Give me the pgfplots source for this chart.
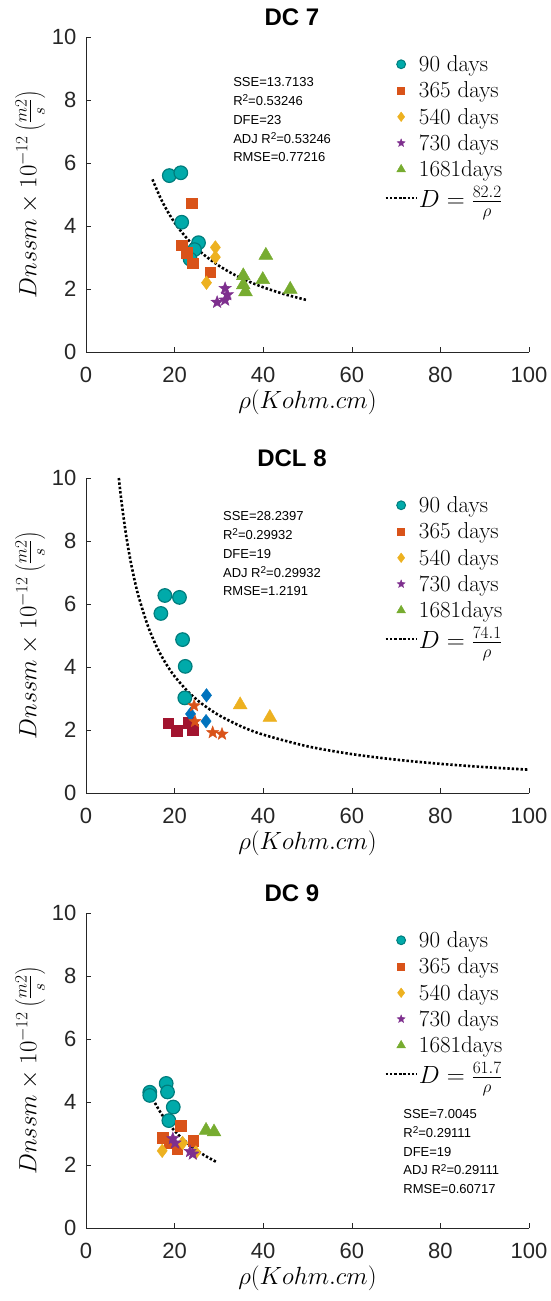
\documentclass[border=0pt]{standalone}
\usepackage{fontspec}
\usepackage{pgfplots}
\pgfplotsset{compat=1.18}
\newfontfamily\arial{Liberation Sans}
\definecolor{cteal}{RGB}{0,170,170}
\definecolor{cteald}{RGB}{0,125,125}
\definecolor{corange}{RGB}{217,83,25}
\definecolor{cyellow}{RGB}{237,177,32}
\definecolor{cpurple}{RGB}{126,47,142}
\definecolor{cgreen}{RGB}{119,172,48}
\definecolor{cdred}{RGB}{162,20,47}
\definecolor{cblue}{RGB}{0,114,189}
\definecolor{axgray}{RGB}{38,38,38}
\pgfdeclareplotmark{fstar}{%
  \pgfpathmoveto{\pgfpointpolar{90}{\pgfplotmarksize}}%
  \pgfpathlineto{\pgfpointpolar{126}{0.42\pgfplotmarksize}}%
  \pgfpathlineto{\pgfpointpolar{162}{\pgfplotmarksize}}%
  \pgfpathlineto{\pgfpointpolar{198}{0.42\pgfplotmarksize}}%
  \pgfpathlineto{\pgfpointpolar{234}{\pgfplotmarksize}}%
  \pgfpathlineto{\pgfpointpolar{270}{0.42\pgfplotmarksize}}%
  \pgfpathlineto{\pgfpointpolar{306}{\pgfplotmarksize}}%
  \pgfpathlineto{\pgfpointpolar{342}{0.42\pgfplotmarksize}}%
  \pgfpathlineto{\pgfpointpolar{18}{\pgfplotmarksize}}%
  \pgfpathlineto{\pgfpointpolar{54}{0.42\pgfplotmarksize}}%
  \pgfpathclose\pgfusepathqfillstroke}
\newcommand{\sq}{\raisebox{0.55ex}{\fontsize{10}{10}\selectfont 2}}
\tikzset{statbox/.style={anchor=north west, align=left, inner sep=0pt, font=\arial\fontsize{13}{18.8}\selectfont}}
\pgfplotsset{
  myaxis/.style={
    width=443pt, height=315pt, scale only axis,
    xmin=0, xmax=100, ymin=0, ymax=10,
    axis lines*=left,
    axis line style={axgray, line width=0.6pt},
    tick style={axgray, line width=0.6pt},
    major tick length=5pt,
    tick align=inside,
    xtick={0,20,...,100}, ytick={0,2,...,10},
    ticklabel style={font=\arial\fontsize{22}{22}\selectfont, text=axgray},
    yticklabel style={xshift=-6pt},
    xticklabel style={yshift=-12pt},
    /pgf/number format/assume math mode=true,
    xlabel={$\rho(Kohm.cm)$},
    ylabel={$Dnssm\times10^{-12}\left(\frac{m2}{s}\right)$},
    xlabel style={font=\fontsize{28}{28}\selectfont},
    ylabel style={font=\fontsize{26}{26}\selectfont},
    title style={font=\arial\bfseries\fontsize{24}{24}\selectfont, at={(0.465,1)}, anchor=base, yshift=6pt},
    legend style={draw=none, fill=none, inner sep=0pt, font=\fontsize{23}{23}\selectfont,
      at={(0.673,0.945)}, anchor=north west, row sep=6.8pt,
      nodes={inner sep=1pt}},
    legend cell align=left,
    legend image code/.code={\draw[mark repeat=2,mark phase=2,#1] plot coordinates {(0pt,0pt) (15.5pt,0pt) (31pt,0pt)};},
    clip=false,
  },
  scirc/.style={only marks, mark=*, mark size=6.8pt, mark options={fill=cteal, draw=cteald, line width=1.2pt}},
  ssq/.style={only marks, mark=square*, mark size=5.3pt, mark options={fill=#1, draw=#1}},
  sdia/.style={only marks, mark=diamond*, mark size=6.8pt, mark options={fill=#1, draw=#1}},
  sstar/.style={only marks, mark=fstar, mark size=6.5pt, mark options={fill=#1, draw=#1}},
  stri/.style={only marks, mark=triangle*, mark size=8pt, mark options={fill=#1, draw=#1}},
  fitline/.style={black, line width=2.6pt, dash pattern=on 2.4pt off 2pt, smooth},
}
\newcommand{\stdlegend}[1]{%
  \addlegendimage{only marks, mark=*, mark size=4.4pt, mark options={fill=cteal, draw=cteald, line width=1pt}}
  \addlegendentry{90 days}
  \addlegendimage{only marks, mark=square*, mark size=3.5pt, mark options={fill=corange, draw=corange}}
  \addlegendentry{365 days}
  \addlegendimage{only marks, mark=diamond*, mark size=4.8pt, mark options={fill=cyellow, draw=cyellow}}
  \addlegendentry{540 days}
  \addlegendimage{only marks, mark=fstar, mark size=4.2pt, mark options={fill=cpurple, draw=cpurple}}
  \addlegendentry{730 days}
  \addlegendimage{only marks, mark=triangle*, mark size=5pt, mark options={fill=cgreen, draw=cgreen}}
  \addlegendentry{1681days}
  \addlegendimage{black, line width=2.6pt, dash pattern=on 2.4pt off 2pt}
  \addlegendentry{$D=\frac{#1}{\rho}$}
}
\begin{document}
\begin{tikzpicture}
\useasboundingbox (0,0) rectangle (551pt,-1301pt);
% ---------------- DC 7 ----------------
\begin{axis}[myaxis, at={(86pt,-352pt)}, anchor=south west, title={DC 7}]
\stdlegend{82.2}
\addplot[scirc, forget plot] coordinates {(18.8,5.60) (21.4,5.69) (21.6,4.12) (25.4,3.47) (24.5,3.25) (23.5,2.95)};
\addplot[ssq=corange, forget plot] coordinates {(23.8,4.73) (21.6,3.39) (22.7,3.15) (24.1,2.82) (28.0,2.53)};
\addplot[sdia=cyellow, forget plot] coordinates {(29.2,3.32) (29.2,3.01) (27.2,2.20)};
\addplot[sstar=cpurple, forget plot] coordinates {(31.4,2.02) (31.9,1.82) (31.4,1.65) (29.6,1.58)};
\addplot[stri=cgreen, forget plot] coordinates {(40.6,3.07) (35.5,2.42) (39.9,2.30) (35.5,2.13) (36.0,1.91) (46.1,1.99)};
\addplot[fitline, forget plot] coordinates {(15,5.480) (17,4.835) (19,4.326) (21,3.914) (23,3.574) (25,3.288) (27,3.044) (30,2.740) (33,2.491) (36,2.283) (40,2.055) (45,1.827) (50,1.644)};
\node[statbox] at (axis cs:33.2,8.72)
  {SSE=13.7133\\R\sq=0.53246\\DFE=23\\ADJ R\sq=0.53246\\RMSE=0.77216};
\end{axis}
% ---------------- DCL 8 ----------------
\begin{axis}[myaxis, at={(86pt,-793pt)}, anchor=south west, title={DCL 8}]
\stdlegend{74.1}
\addplot[scirc, forget plot] coordinates {(17.8,6.27) (21.1,6.21) (16.9,5.70) (21.8,4.87) (22.4,4.02) (22.3,3.02)};
\addplot[ssq=cdred, forget plot] coordinates {(18.6,2.21) (20.5,1.97) (23.1,2.24) (24.1,2.01)};
\addplot[sdia=cblue, forget plot] coordinates {(27.2,3.10) (23.6,2.51) (27.1,2.28)};
\addplot[sstar=corange, forget plot] coordinates {(24.4,2.77) (24.6,2.27) (28.6,1.92) (30.7,1.87)};
\addplot[stri=cyellow, forget plot] coordinates {(34.8,2.80) (41.5,2.40)};
\addplot[fitline, forget plot] coordinates {(7.41,10.0) (8,9.263) (9,8.233) (10,7.410) (11,6.736) (12,6.175) (14,5.293) (16,4.631) (18,4.117) (20,3.705) (23,3.222) (26,2.850) (30,2.470) (35,2.117) (40,1.853) (50,1.482) (60,1.235) (70,1.059) (80,0.926) (90,0.823) (100,0.741)};
\node[statbox] at (axis cs:30.9,8.94)
  {SSE=28.2397\\R\sq=0.29932\\DFE=19\\ADJ R\sq=0.29932\\RMSE=1.2191};
\end{axis}
% ---------------- DC 9 ----------------
\begin{axis}[myaxis, at={(86pt,-1228pt)}, anchor=south west, title={DC 9}]
\stdlegend{61.7}
\addplot[scirc, forget plot] coordinates {(18.1,4.59) (14.4,4.31) (14.4,4.21) (18.4,4.32) (19.7,3.84) (18.7,3.41)};
\addplot[ssq=corange, forget plot] coordinates {(21.4,3.25) (17.3,2.87) (24.2,2.78) (18.8,2.70) (20.6,2.51)};
\addplot[sdia=cyellow, forget plot] coordinates {(17.2,2.45) (21.8,2.70) (24.8,2.40)};
\addplot[sstar=cpurple, forget plot] coordinates {(19.6,2.84) (20.1,2.70) (23.5,2.43) (24.1,2.35)};
\addplot[stri=cgreen, forget plot] coordinates {(27.1,3.10) (28.9,3.05)};
\addplot[fitline, forget plot] coordinates {(14.2,4.345) (15,4.113) (17,3.629) (19,3.247) (21,2.938) (23,2.683) (25,2.468) (27,2.285) (29.6,2.084)};
\node[statbox] at (axis cs:71.6,3.77)
  {SSE=7.0045\\R\sq=0.29111\\DFE=19\\ADJ R\sq=0.29111\\RMSE=0.60717};
\end{axis}
\end{tikzpicture}
\end{document}
